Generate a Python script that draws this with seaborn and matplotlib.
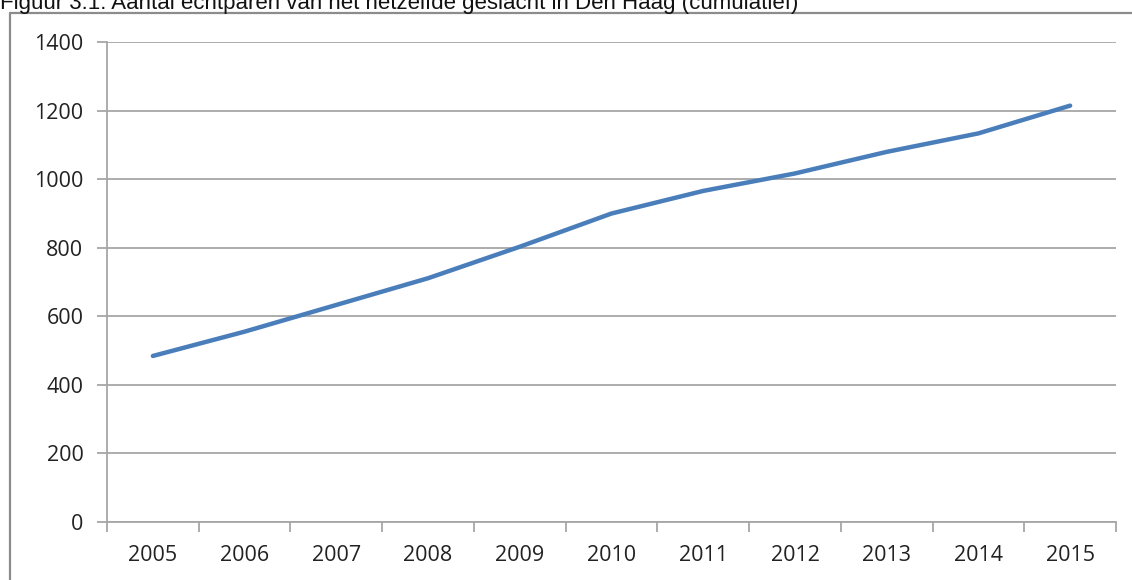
import matplotlib
matplotlib.use("Agg")
import matplotlib.pyplot as plt
from matplotlib.lines import Line2D
from matplotlib.ticker import FixedLocator, MultipleLocator
import seaborn as sns
import pandas as pd

years = ["2005", "2006", "2007", "2008", "2009", "2010", "2011", "2012", "2013", "2014", "2015"]
values = [484, 555, 633, 711, 803, 900, 966, 1017, 1080, 1134, 1215]
title = "Figuur 3.1: Aantal echtparen van het hetzelfde geslacht in Den Haag (cumulatief)"

sns.set_theme(style="white")
plt.rcParams['font.family'] = ['Open Sans', 'DejaVu Sans']

df = pd.DataFrame({"jaar": years, "aantal": values})

fig = plt.figure(figsize=(11.32, 5.8), dpi=100)
W, H = 1132, 580
ax = fig.add_axes([107 / W, 1 - 521.7 / H, (1116 - 107) / W, (521.7 - 42.3) / H])

sns.lineplot(data=df, x="jaar", y="aantal", ax=ax, color="#4a7ebb", linewidth=3.2,
             solid_capstyle="round", sort=False)

ax.set_ylim(0, 1400)
ax.set_xlim(-0.5, len(years) - 0.5)
ax.yaxis.set_major_locator(MultipleLocator(200))
ax.grid(axis="y", color="#a6a6a6", linewidth=1.3)
ax.set_axisbelow(True)
ax.set_xlabel("")
ax.set_ylabel("")

ax.set_xticks(range(len(years)))
ax.set_xticklabels(years)
ax.xaxis.set_minor_locator(FixedLocator([i - 0.5 for i in range(len(years) + 1)]))
ax.tick_params(axis="x", which="major", length=0, pad=17, labelsize=15.5, labelcolor="#222222")
ax.tick_params(axis="x", which="minor", length=7, width=1.3, color="#a6a6a6", direction="out", bottom=True)
ax.tick_params(axis="y", which="major", length=7, width=1.3, color="#a6a6a6", direction="out",
               left=True, pad=10, labelsize=15.5, labelcolor="#222222")

for s in ["top", "right"]:
    ax.spines[s].set_visible(False)
for s in ["left", "bottom"]:
    ax.spines[s].set_color("#a6a6a6")
    ax.spines[s].set_linewidth(1.3)

# outer frame (cropped figure box)
fig.add_artist(Line2D([10 / W, 10 / W], [0, 1 - 13 / H], transform=fig.transFigure,
                      color="#8c8c8c", linewidth=1.6))
fig.add_artist(Line2D([10 / W, 1], [1 - 13 / H, 1 - 13 / H], transform=fig.transFigure,
                      color="#8c8c8c", linewidth=1.6))

fig.text(0.0, 1 - 9 / H, title, ha="left", va="baseline", fontsize=16,
         family=["Liberation Sans", "DejaVu Sans"], color="#111111")

fig.savefig("out.png", dpi=100)
